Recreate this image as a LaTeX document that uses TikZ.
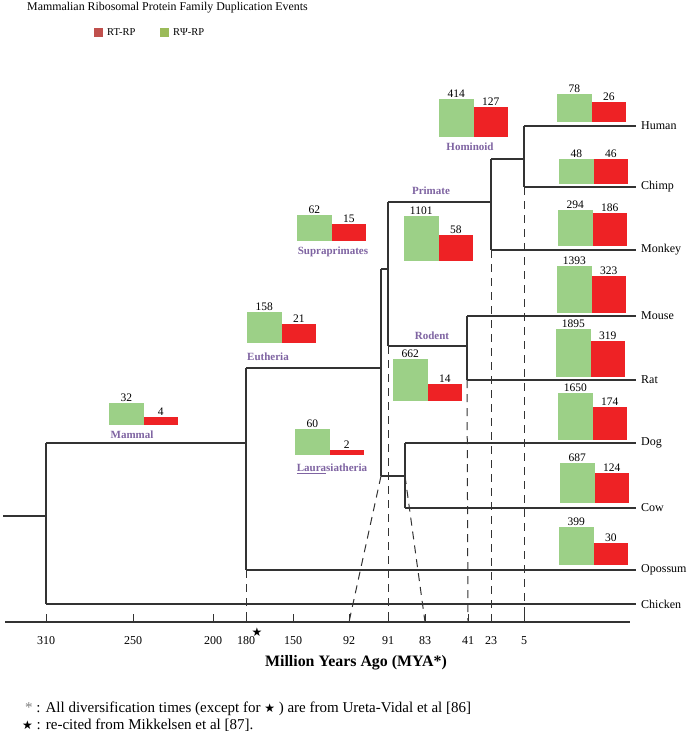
\documentclass[tikz,border=0pt]{standalone}
\usepackage{fontspec}
\setmainfont{Liberation Serif}
\newfontfamily\symfont{DejaVu Sans}
\definecolor{gbarc}{HTML}{9CD087}
\definecolor{rbarc}{HTML}{EE2225}
\definecolor{lgred}{HTML}{C0504D}
\definecolor{lggreen}{HTML}{9BBB59}
\definecolor{cladec}{HTML}{7F64A2}
\definecolor{treec}{HTML}{333333}
\tikzset{
  branch/.style={draw=treec, line width=1.2pt},
  guide/.style={draw=treec, line width=1pt, dash pattern=on 8pt off 6pt},
  num/.style={inner sep=0pt, anchor=south, font=\fontsize{11.5}{12}\selectfont},
  clade/.style={inner sep=0pt, text=cladec, font=\fontsize{11}{12}\selectfont\bfseries},
  species/.style={inner sep=0pt, anchor=west, font=\fontsize{12}{13}\selectfont},
  ticklab/.style={inner sep=0pt, font=\fontsize{12}{13}\selectfont},
  footnote/.style={inner sep=0pt, anchor=west, font=\fontsize{15}{16}\selectfont},
}
\newcommand\pinstar{{\symfont\fontsize{12}{12}\selectfont ★}}
% name, xleft, bottom, green top, red top, green value, red value
\newcommand\dupbars[7]{%
  \fill[gbarc] (#2,#3) rectangle ({#2+34.5},#4);
  \fill[rbarc] ({#2+34.5},#3) rectangle ({#2+69},#5);
  \node[num] (#1g) at ({#2+17.25},{#4-1}) {#6};
  \node[num] (#1r) at ({#2+51.75},{#5-1}) {#7};
}
\begin{document}
\begin{tikzpicture}[x=1pt,y=-1pt]
\useasboundingbox[fill=white] (0,0) rectangle (689,738);

% title and legend
\node[inner sep=0pt, anchor=west, font=\fontsize{11.9}{13}\selectfont] (title) at (27,8) {Mammalian Ribosomal Protein Family Duplication Events};
\fill[lgred] (94,28) rectangle (103,37);
\node[inner sep=0pt, anchor=west, font=\fontsize{10.5}{12}\selectfont] (lgrt) at (107,32.5) {RT-RP};
\fill[lggreen] (160,28) rectangle (169,37);
\node[inner sep=0pt, anchor=west, font=\fontsize{10.5}{12}\selectfont] (lgrpsi) at (173,32.5) {RΨ-RP};

% tree coordinates
\coordinate (stub) at (3,516);
\coordinate (rootA) at (46,443);
\coordinate (rootB) at (46,604);
\coordinate (mamA) at (246,368);
\coordinate (mamB) at (246,570);
\coordinate (euA) at (381,269);
\coordinate (euB) at (381,476);
\coordinate (supA) at (388,202);
\coordinate (supB) at (388,346);
\coordinate (priA) at (491,159);
\coordinate (priB) at (491,250);
\coordinate (homA) at (524,126);
\coordinate (homB) at (524,187);
\coordinate (rodA) at (467,316);
\coordinate (rodB) at (467,380);
\coordinate (lauA) at (405,443);
\coordinate (lauB) at (405,508);
\coordinate (eHuman) at (636,126);
\coordinate (eChimp) at (636,187);
\coordinate (eMonkey) at (636,250);
\coordinate (eMouse) at (636,316);
\coordinate (eRat) at (636,380);
\coordinate (eDog) at (636,443);
\coordinate (eCow) at (636,508);
\coordinate (eOpossum) at (636,570);
\coordinate (eChicken) at (636,604);

% tree branches
\draw[branch] (stub) -- (stub -| rootA);
\draw[branch] (rootA) -- (rootB);
\draw[branch] (rootA) -- (rootA -| mamA);
\draw[branch] (rootB) -- (eChicken);
\draw[branch] (mamA) -- (mamB);
\draw[branch] (mamB) -- (eOpossum);
\draw[branch] (mamA) -- (mamA -| euA);
\draw[branch] (euA) -- (euB);
\draw[branch] (euA) -- (euA -| supA);
\draw[branch] (supA) -- (supB);
\draw[branch] (supA) -- (supA -| priA);
\draw[branch] (priA) -- (priB);
\draw[branch] (priA) -- (priA -| homA);
\draw[branch] (homA) -- (homB);
\draw[branch] (homA) -- (eHuman);
\draw[branch] (homB) -- (eChimp);
\draw[branch] (priB) -- (eMonkey);
\draw[branch] (supB) -- (supB -| rodA);
\draw[branch] (rodA) -- (rodB);
\draw[branch] (rodA) -- (eMouse);
\draw[branch] (rodB) -- (eRat);
\draw[branch] (euB) -- (euB -| lauA);
\draw[branch] (lauA) -- (lauB);
\draw[branch] (lauA) -- (eDog);
\draw[branch] (lauB) -- (eCow);

% species labels
\node[species] (lHuman) at (641,126) {Human};
\node[species] (lChimp) at (641,187) {Chimp};
\node[species] (lMonkey) at (641,250) {Monkey};
\node[species] (lMouse) at (641,316) {Mouse};
\node[species] (lRat) at (641,380) {Rat};
\node[species] (lDog) at (641,443) {Dog};
\node[species] (lCow) at (641,508) {Cow};
\node[species] (lOpossum) at (641,570) {Opossum};
\node[species] (lChicken) at (641,604) {Chicken};

% axis
\coordinate (axL) at (5,622);
\coordinate (axR) at (630,622);
\draw[branch] (axL) -- (axR);
\foreach \xx/\lab in {46/310,133/250,213/200,246/180,293/150,349/92,388/91,425/83,468/41,491/23,524/5}{
  \coordinate (t\lab) at (\xx,622);
  \draw[branch, line width=1pt] (t\lab) -- ++(0,-8);
  \node[ticklab] (tl\lab) at (\xx,641) {\lab};
}
\node[inner sep=0pt] (star) at (257,632) {\pinstar};

% dashed guides
\draw[guide] (mamB) -- (t180);
\draw[guide] (supB) -- (t91);
\draw[guide] (rodB) -- (t41);
\draw[guide] (priB) -- (t23);
\draw[guide] (homB) -- (t5);
\draw[guide] (euB) -- (t92);
\draw[guide] (euB -| lauA) -- (t83);

% bars
\dupbars{mam}{109}{425}{403}{417}{32}{4}
\dupbars{lau}{295}{455}{429}{450}{60}{2}
\dupbars{eut}{247}{343}{312}{324}{158}{21}
\dupbars{sup}{297}{241}{215}{224}{62}{15}
\dupbars{pri}{404}{261}{216}{235}{1101}{58}
\dupbars{hom}{439}{137}{99}{107}{414}{127}
\dupbars{rod}{393}{401}{359}{384}{662}{14}
\dupbars{hum}{557}{122}{94}{102}{78}{26}
\dupbars{chi}{559}{184}{159}{159}{48}{46}
\dupbars{mon}{558}{246}{210}{213}{294}{186}
\dupbars{mou}{557}{313}{266}{276}{1393}{323}
\dupbars{rat}{556}{377}{329}{341}{1895}{319}
\dupbars{dog}{558}{440}{393}{407}{1650}{174}
\dupbars{cow}{560}{503}{463}{473}{687}{124}
\dupbars{opo}{559}{565}{527}{543}{399}{30}

% clade labels
\node[clade] (cMammal) at (132,435) {Mammal};
\node[clade] (cEutheria) at (268,357) {Eutheria};
\node[clade] (cLaura) at (332,469) {\underline{Laura}siatheria};
\node[clade] (cSupra) at (333,252) {Supraprimates};
\node[clade] (cPrimate) at (431,191) {Primate};
\node[clade] (cRodent) at (432,336) {Rodent};
\node[clade] (cHominoid) at (470,147) {Hominoid};

% x-axis title and footnotes
\node[inner sep=0pt, font=\fontsize{15.9}{17}\selectfont\bfseries] (axtitle) at (356,663) {Million Years Ago (MYA*)};
\node[footnote] (fn1) at (25,709) {{\color{gray}*} : All diversification times (except for \pinstar\ ) are from Ureta-Vidal et al [86]};
\node[footnote] (fn2) at (22,725) {\pinstar\ : re-cited from Mikkelsen et al [87].};
\end{tikzpicture}
\end{document}
